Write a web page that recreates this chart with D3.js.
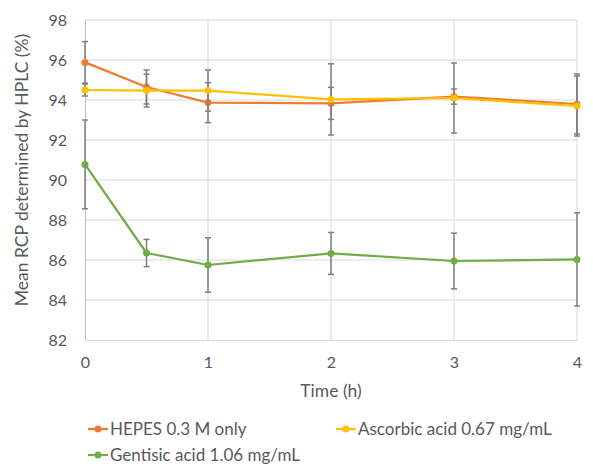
<!DOCTYPE html>
<html>
<head>
<meta charset="utf-8">
<script src="https://cdn.jsdelivr.net/npm/d3@7"></script>
<style>
  html, body { margin: 0; padding: 0; background: #fff; }
  svg { display: block; }
  text { font-family: Lato, "Open Sans", sans-serif; fill: #595959; }
</style>
</head>
<body>
<svg id="chart" width="593" height="467"></svg>
<script>
const times = [0, 0.5, 1, 2, 3, 4];
const seriesNames = ["HEPES 0.3 M only", "Ascorbic acid 0.67 mg/mL", "Gentisic acid 1.06 mg/mL"];
const seriesColors = ["#ED7D31", "#FFC000", "#70AD47"];
const hepes = [95.88, 94.65, 93.87, 93.83, 94.17, 93.8];
const hepesErr = [1.04, 0.85, 1.0, 0.8, 0.38, 1.5];
const ascorbic = [94.5, 94.47, 94.47, 94.03, 94.1, 93.7];
const ascorbicErr = [0.3, 0.82, 1.03, 1.78, 1.75, 1.5];
const gentisic = [90.78, 86.35, 85.75, 86.33, 85.95, 86.03];
const gentisicErr = [2.22, 0.68, 1.36, 1.05, 1.39, 2.33];
const xTicks = [0, 1, 2, 3, 4];
const yTicks = [82, 84, 86, 88, 90, 92, 94, 96, 98];
const xTitle = "Time (h)";
const yTitle = "Mean RCP determined by HPLC (%)";

const series = [
  { name: seriesNames[0], color: seriesColors[0], values: hepes, err: hepesErr },
  { name: seriesNames[1], color: seriesColors[1], values: ascorbic, err: ascorbicErr },
  { name: seriesNames[2], color: seriesColors[2], values: gentisic, err: gentisicErr }
];

const svg = d3.select("#chart");
const x = d3.scaleLinear().domain([0, 4]).range([85, 577]);
const y = d3.scaleLinear().domain([82, 98]).range([340, 20]);

// gridlines
const grid = svg.append("g");
grid.selectAll("line.h").data(yTicks.filter(d => d !== 82)).join("line")
  .attr("x1", x(0)).attr("x2", x(4))
  .attr("y1", d => y(d)).attr("y2", d => y(d))
  .attr("stroke", "#d9d9d9").attr("stroke-width", 1);
grid.selectAll("line.v").data(xTicks.filter(d => d !== 0)).join("line")
  .attr("y1", y(82)).attr("y2", y(98))
  .attr("x1", d => x(d)).attr("x2", d => x(d))
  .attr("stroke", "#d9d9d9").attr("stroke-width", 1);

// axes
const xAxis = svg.append("g").attr("transform", `translate(0,${y(82)})`)
  .call(d3.axisBottom(x).tickValues(xTicks).tickSize(0).tickPadding(17).tickFormat(d3.format("d")));
xAxis.select(".domain").attr("stroke", "#d9d9d9").attr("stroke-width", 1);
xAxis.selectAll("text").style("font-size", "16px").attr("fill", "#595959");

const yAxis = svg.append("g").attr("transform", `translate(${x(0)},0)`)
  .call(d3.axisLeft(y).tickValues(yTicks).tickSize(0).tickPadding(18).tickFormat(d3.format("d")));
yAxis.select(".domain").attr("stroke", "#bfbfbf").attr("stroke-width", 1);
yAxis.selectAll("text").style("font-size", "16px").attr("fill", "#595959");

// titles
svg.append("text").attr("x", 331).attr("y", 397).attr("text-anchor", "middle")
  .style("font-size", "17.5px").text(xTitle);
svg.append("text").attr("transform", `translate(28,170) rotate(-90)`).attr("text-anchor", "middle")
  .style("font-size", "17.5px").text(yTitle);

// series
const line = d3.line().x((d, i) => x(times[i])).y(d => y(d));
series.forEach(s => {
  const g = svg.append("g");
  const eb = g.append("g");
  times.forEach((t, i) => {
    const lo = y(s.values[i] - s.err[i]), hi = y(s.values[i] + s.err[i]);
    eb.append("line").attr("x1", x(t)).attr("x2", x(t)).attr("y1", lo).attr("y2", hi)
      .attr("stroke", "#7f7f7f").attr("stroke-width", 1.5);
    [lo, hi].forEach(v => eb.append("line").attr("x1", x(t) - 3).attr("x2", x(t) + 3)
      .attr("y1", v).attr("y2", v).attr("stroke", "#7f7f7f").attr("stroke-width", 1.5));
  });
  g.append("path").datum(s.values).attr("d", line).attr("fill", "none")
    .attr("stroke", s.color).attr("stroke-width", 2.25).attr("stroke-linejoin", "round");
  g.selectAll("circle").data(s.values).join("circle")
    .attr("cx", (d, i) => x(times[i])).attr("cy", d => y(d)).attr("r", 3.5)
    .attr("fill", s.color);
});

// legend
const legendPos = [[88, 429], [336, 429], [88, 455]];
series.forEach((s, i) => {
  const [lx, ly] = legendPos[i];
  const g = svg.append("g").attr("transform", `translate(${lx},${ly})`);
  g.append("line").attr("x1", 0).attr("x2", 20).attr("y1", 0).attr("y2", 0)
    .attr("stroke", s.color).attr("stroke-width", 2.25);
  g.append("circle").attr("cx", 10).attr("cy", 0).attr("r", 3.5).attr("fill", s.color);
  g.append("text").attr("x", 22).attr("y", 0).attr("dy", "0.35em")
    .style("font-size", "17px").text(s.name);
});
</script>
</body>
</html>
